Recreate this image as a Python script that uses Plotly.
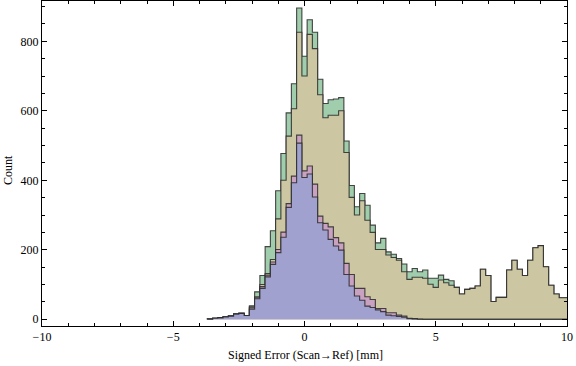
import plotly.graph_objects as go

# Bin centres (width 0.2) from -3.6 to 10.0
bin_start = -3.6
bin_width = 0.2
n_bins = 69
centers = [round(bin_start + i * bin_width, 1) for i in range(n_bins)]

tails = [1, 3, 4, 7, 9, 15, 17, 11]
green = tails + [39, 79, 126, 209, 255, 370, 477, 594, 678, 896, 757, 862, 826, 691, 621, 632, 634, 638,
                 513, 385, 324, 362, 328, 271, 220, 233, 194, 187, 175, 159, 137, 146, 137, 142, 118, 118,
                 127, 115, 111,
                 92, 73, 86, 89, 96, 144, 126, 51, 63, 63, 142, 170, 144, 126, 170, 206, 212, 151, 98, 73, 62, 62]
olive = tails + [36, 65, 100, 132, 172, 289, 400, 527, 606, 826, 700, 820, 779, 646, 580, 587, 587, 600,
                 480, 351, 300, 341, 285, 250, 201, 201, 185, 178, 170, 137, 115, 121, 121, 118, 101, 92,
                 113, 105, 98,
                 92, 73, 86, 89, 96, 144, 126, 51, 63, 63, 142, 170, 144, 126, 170, 206, 212, 151, 98, 73, 62, 62]
pink = tails + [33, 62, 94, 127, 165, 201, 251, 333, 412, 530, 427, 441, 389, 297, 276, 266, 235, 220,
                161, 129, 89, 89, 65, 57, 31, 31, 19, 19, 12, 9, 3, 2, 1, 0, 0, 0, 0, 0, 0,
                0, 0, 0, 0, 0, 0, 0, 0, 0, 0, 0, 0, 0, 0, 0, 0, 0, 0, 0, 0, 0, 0]
blue = tails + [29, 59, 89, 122, 158, 192, 236, 322, 393, 507, 408, 418, 352, 278, 257, 230, 211, 199,
                129, 96, 67, 55, 38, 34, 27, 22, 12, 10, 8, 6, 2, 1, 0, 0, 0, 0, 0, 0, 0,
                0, 0, 0, 0, 0, 0, 0, 0, 0, 0, 0, 0, 0, 0, 0, 0, 0, 0, 0, 0, 0, 0]

x_ticks = [-10, -5, 0, 5, 10]
y_ticks = [0, 200, 400, 600, 800]

series = [
    ("green", green, "rgb(160,205,172)"),
    ("olive", olive, "rgb(204,199,162)"),
    ("pink", pink, "rgb(201,162,194)"),
    ("blue", blue, "rgb(161,161,208)"),
]

def step_xy(vals):
    edges = [c - bin_width / 2 for c in centers] + [centers[-1] + bin_width / 2]
    xs = [edges[0]] + edges[:-1] + [edges[-1], edges[-1]]
    ys = [0] + list(vals) + [vals[-1], 0]
    return xs, ys

fig = go.Figure()
for name, vals, col in series:
    xs, ys = step_xy(vals)
    fig.add_trace(go.Scatter(x=xs, y=ys, mode="lines", line_shape="hv",
                             fill="tozeroy", fillcolor=col,
                             line=dict(color="rgba(40,40,40,0.85)", width=1.1),
                             name=name, showlegend=False, hoverinfo="skip"))

font = dict(family="Liberation Serif, Times New Roman, serif", size=12, color="black")
L, R, T, B = 42, 9, 1, 40
W, H = 576, 366
pw = W - L - R
ph = H - T - B

fig.update_layout(
    width=W, height=H,
    margin=dict(l=L, r=R, t=T, b=B),
    paper_bgcolor="white", plot_bgcolor="white",
    font=font,
    xaxis=dict(range=[-10, 10], showgrid=False, zeroline=False, showline=True,
               linecolor="black", linewidth=1, mirror="ticks",
               ticks="inside", ticklen=5, tickcolor="black", tickwidth=1,
               tickvals=x_ticks, ticktext=[("\u2212" + str(-v)) if v < 0 else str(v) for v in x_ticks],
               tickfont=font,
               minor=dict(dtick=1, tick0=0, ticks="inside", ticklen=3, tickcolor="black")),
    yaxis=dict(range=[-19.3, 916], showgrid=False, zeroline=False, showline=True,
               linecolor="black", linewidth=1, mirror="ticks",
               ticks="inside", ticklen=5, tickcolor="black", tickwidth=1,
               tickvals=y_ticks, tickfont=font,
               minor=dict(dtick=50, tick0=0, ticks="inside", ticklen=3, tickcolor="black")),
    annotations=[
        dict(text="Count", xref="paper", yref="paper", x=(8 - L) / pw, y=(T + ph - 170) / ph,
             textangle=-90, showarrow=False, font=font, xanchor="center", yanchor="middle"),
        dict(text="Signed Error (Scan\u2192Ref) [mm]", xref="paper", yref="paper",
             x=(305 - L) / pw, y=(T + ph - 355) / ph, showarrow=False, font=font,
             xanchor="center", yanchor="middle"),
    ],
)

fig.write_html("out.html", config={"displayModeBar": False},
               post_script="document.body.style.margin='0';document.body.style.padding='0';")
